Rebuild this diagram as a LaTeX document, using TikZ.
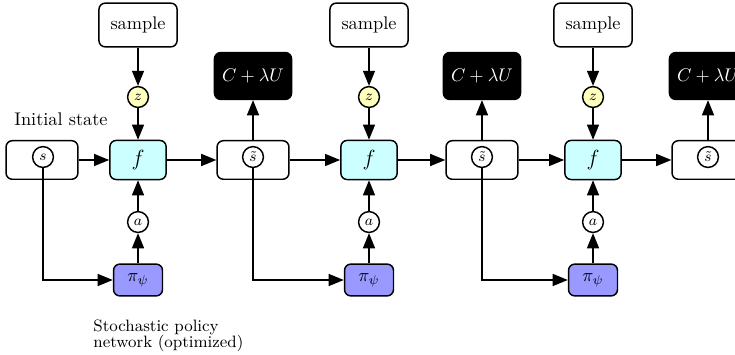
\documentclass[tikz,border=0pt]{standalone}
\usepackage{amsmath}
\usetikzlibrary{arrows.meta}

\definecolor{modelcyan}{RGB}{204,255,255}
\definecolor{policyblue}{RGB}{153,153,255}
\definecolor{noiseyellow}{RGB}{255,255,190}

\begin{document}
\begin{tikzpicture}[>={Triangle[length=2.9mm,width=2.3mm]},
    box/.style={draw, thick, rounded corners=1.2mm, inner sep=0pt},
    statebox/.style={box, minimum width=1.38cm, minimum height=0.74cm},
    samplebox/.style={box, minimum width=1.5cm, minimum height=0.84cm},
    costbox/.style={box, fill=black, text=white, minimum width=1.48cm, minimum height=0.9cm},
    modelbox/.style={box, fill=modelcyan, minimum width=1.08cm, minimum height=0.75cm, font=\large},
    policybox/.style={box, fill=policyblue, minimum width=0.94cm, minimum height=0.61cm},
    var/.style={draw, thick, circle, fill=white, minimum size=0.4cm, inner sep=0pt, font=\footnotesize},
    noise/.style={var, fill=noiseyellow},
    link/.style={->, thick}]
    \clip (0,0) rectangle (14.112,6.797);

    % initial state
    \node[statebox] (sbox) at (0.806,3.725) {};
    \node[var] (s) at (0.826,3.782) {$s$};
    \node (init) at (1.171,4.512) {Initial state};

    % first step
    \node[samplebox] (smp1) at (2.650,6.317) {sample};
    \node[noise] (z1) at (2.650,4.934) {$z$};
    \node[modelbox] (f1) at (2.650,3.725) {$f$};
    \node[var] (a1) at (2.650,2.534) {$a$};
    \node[policybox] (pi1) at (2.650,1.421) {$\pi_\psi$};
    \node[statebox] (stbox1) at (4.858,3.725) {};
    \node[var] (st1) at (4.858,3.782) {$\tilde{s}$};
    \node[costbox] (c1) at (4.858,5.338) {$C+\lambda U$};
    \node[anchor=north west, align=left, inner sep=0pt, font=\small] (note) at (1.786,0.66)
        {Stochastic policy\\[-2.5pt]network (optimized)};

    % second step
    \node[samplebox] (smp2) at (7.085,6.317) {sample};
    \node[noise] (z2) at (7.085,4.934) {$z$};
    \node[modelbox] (f2) at (7.085,3.725) {$f$};
    \node[var] (a2) at (7.085,2.534) {$a$};
    \node[policybox] (pi2) at (7.085,1.421) {$\pi_\psi$};
    \node[statebox] (stbox2) at (9.254,3.725) {};
    \node[var] (st2) at (9.254,3.782) {$\tilde{s}$};
    \node[costbox] (c2) at (9.254,5.338) {$C+\lambda U$};

    % third step
    \node[samplebox] (smp3) at (11.386,6.317) {sample};
    \node[noise] (z3) at (11.386,4.934) {$z$};
    \node[modelbox] (f3) at (11.386,3.725) {$f$};
    \node[var] (a3) at (11.386,2.534) {$a$};
    \node[policybox] (pi3) at (11.386,1.421) {$\pi_\psi$};
    \node[statebox] (stbox3) at (13.594,3.725) {};
    \node[var] (st3) at (13.594,3.782) {$\tilde{s}$};
    \node[costbox] (c3) at (13.594,5.338) {$C+\lambda U$};

    \draw[link] (smp1) -- (z1);
    \draw[link] (z1) -- (f1);
    \draw[link] (sbox) -- (f1);
    \draw[link] (pi1) -- (a1);
    \draw[link] (a1) -- (f1);
    \draw[link] (s) |- (pi1);
    \draw[link] (f1) -- (stbox1);
    \draw[link] (stbox1) -- (c1);

    \draw[link] (smp2) -- (z2);
    \draw[link] (z2) -- (f2);
    \draw[link] (stbox1) -- (f2);
    \draw[link] (pi2) -- (a2);
    \draw[link] (a2) -- (f2);
    \draw[link] (st1) |- (pi2);
    \draw[link] (f2) -- (stbox2);
    \draw[link] (stbox2) -- (c2);

    \draw[link] (smp3) -- (z3);
    \draw[link] (z3) -- (f3);
    \draw[link] (stbox2) -- (f3);
    \draw[link] (pi3) -- (a3);
    \draw[link] (a3) -- (f3);
    \draw[link] (st2) |- (pi3);
    \draw[link] (f3) -- (stbox3);
    \draw[link] (stbox3) -- (c3);
\end{tikzpicture}
\end{document}
